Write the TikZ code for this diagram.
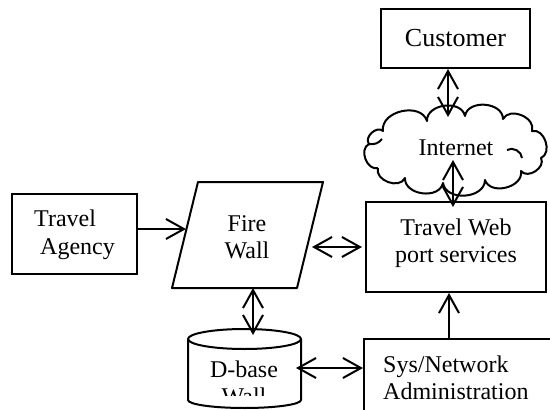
\documentclass[tikz,border=0pt]{standalone}
\usepackage{fontspec}
\setmainfont{Liberation Serif}
\usetikzlibrary{arrows.meta}
\begin{document}
\begin{tikzpicture}[x=1pt,y=1pt,
  font=\fontsize{24}{27.5}\selectfont,
  box/.style={draw, line width=2pt, inner sep=0pt},
  txt/.style={inner sep=0pt, align=center},
  outline/.style={line width=2pt, line join=round},
  puff/.style={bend left=85, looseness=1.15},
  tipA/.tip={Straight Barb[length=18pt,width=20pt]},
  conn/.style={line width=2pt, -tipA},
  biconn/.style={line width=2pt, tipA-tipA}]
\clip (0,0) rectangle (550,-410);

% Customer
\node[box, minimum width=149pt, minimum height=59pt, font=\fontsize{26}{30}\selectfont] (cust) at (455.5,-38.5) {Customer};

% Internet cloud
\draw[outline, fill=white]
  (378,-168) to[puff] (369,-144) to[puff] (383,-131)
  to[puff] (427,-121) to[puff] (465,-116)
  to[puff] (503,-119) to[puff] (532,-131)
  to[puff] (541,-158) to[puff] (521,-171)
  to[puff] (485,-180) to[puff] (443,-183)
  to[puff] (405,-178) to[puff] (378,-168);
\draw[outline] (369,-144) to[bend right=30] (382,-139);
\draw[outline] (507,-150) to[bend left=60] (522,-158);
\node[txt] (inet) at (456,-148) {Internet};
\coordinate (inettop) at (448,-117);
\coordinate (inetbot) at (453,-160);

% Travel Web port services
\node[box, minimum width=180pt, minimum height=90pt] (tw) at (456,-247) {};
\node[txt] (twtext) at (456,-243) {Travel Web\\port services};

% Travel Agency
\node[box, minimum width=125pt, minimum height=80pt] (ta) at (74.5,-234) {};
\node[txt, align=left, anchor=west] (tatext) at (34,-235) {Travel\\\hspace*{6pt}Agency};

% Fire Wall
\draw[outline] (198,-182) -- (323,-182) -- (297,-288) -- (172,-288) -- cycle;
\node[txt] (fw) at (247,-237) {Fire\\Wall};
\coordinate (fwin) at (186,-229);
\coordinate (fwout) at (312,-247);
\coordinate (fwbot) at (253,-288);

% D-base cylinder
\draw[outline, fill=white] (188,-339) -- (188,-400)
  arc[start angle=180, end angle=360, x radius=56.5, y radius=8] -- (301,-339);
\draw[outline] (244.5,-339) ellipse[x radius=56.5, y radius=10];
\begin{scope}
  \clip (180,-350) rectangle (310,-395);
  \node[txt] (db) at (244,-383) {D-base\\Wall};
\end{scope}
\coordinate (dbtop) at (253,-335);
\coordinate (dbright) at (296,-368);

% Sys/Network Administration
\node[box, anchor=north west, minimum width=220pt, minimum height=90pt] (sys) at (363,-338) {};
\node[txt, align=left, anchor=west] (systext) at (383,-378) {Sys/Network\\Administration};
\coordinate (upx) at ([xshift=-7pt]tw.south);

% connectors
\draw[biconn] (cust.south -| inettop) -- (inettop);
\draw[biconn] (inetbot) -- ([yshift=-6pt]inetbot |- tw.north);
\draw[conn] (ta.east |- fwin) -- (fwin);
\draw[biconn] (fwout) -- ([xshift=-3pt]fwout -| tw.west);
\draw[biconn] (fwbot) -- (dbtop);
\draw[biconn] (dbright) -- (dbright -| sys.west);
\draw[conn] (upx |- sys.north) -- (upx);
\end{tikzpicture}
\end{document}
